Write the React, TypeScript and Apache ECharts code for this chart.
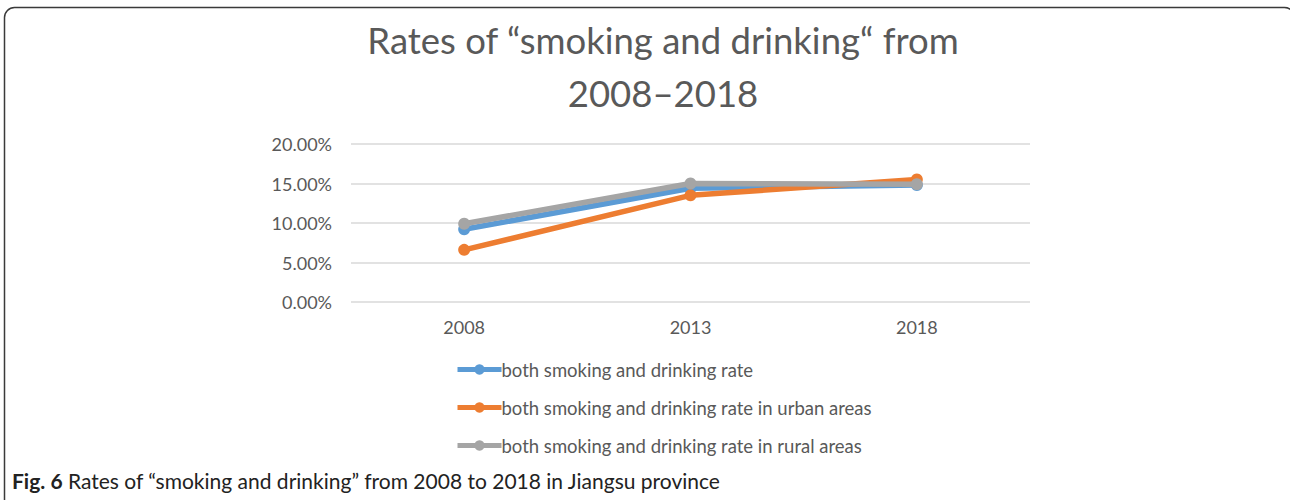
import React, { useEffect, useRef } from "react";
import * as echarts from "echarts";

const years = ["2008", "2013", "2018"];
const overallRate = [9.2, 14.4, 14.8];
const urbanRate = [6.6, 13.5, 15.5];
const ruralRate = [9.9, 15.0, 14.9];
const seriesNames = [
  "both smoking and drinking rate",
  "both smoking and drinking rate in urban areas",
  "both smoking and drinking rate in rural areas",
];
const seriesColors = ["#5B9BD5", "#ED7D31", "#A5A5A5"];

export default function App() {
  const ref = useRef<HTMLDivElement>(null);
  useEffect(() => {
    if (!ref.current) return;
    const chart = echarts.init(ref.current, null, { renderer: "svg" });
    const data = [overallRate, urbanRate, ruralRate];
    chart.setOption({
      animation: false,
      backgroundColor: "#ffffff",
      textStyle: { fontFamily: "Lato" },
      title: {
        text: "Rates of \u201csmoking and drinking\u201c from\n2008\u20132018",
        left: 658,
        textAlign: "center",
        top: 8,
        textStyle: {
          fontFamily: "Lato",
          fontSize: 36.5,
          fontWeight: "normal",
          color: "#595959",
          lineHeight: 53,
        },
      },
      grid: { left: 351, right: 260, top: 144, bottom: 198 },
      xAxis: {
        type: "category",
        data: years,
        axisLine: { show: false },
        axisTick: { show: false },
        axisLabel: { color: "#595959", fontSize: 18, margin: 16, fontFamily: "Lato" },
      },
      yAxis: {
        type: "value",
        min: 0,
        max: 20,
        interval: 5,
        axisLine: { show: false },
        axisTick: { show: false },
        axisLabel: {
          color: "#595959",
          fontSize: 18,
          margin: 19,
          fontFamily: "Lato",
          formatter: (v: number) => v.toFixed(2) + "%",
        },
        splitLine: { lineStyle: { color: "#d9d9d9", width: 1.5 } },
      },
      legend: {
        orient: "vertical",
        left: 450,
        top: 355,
        itemGap: 19,
        itemWidth: 44,
        itemHeight: 13,
        lineStyle: { width: 5 },
        textStyle: { color: "#595959", fontSize: 18.5, fontFamily: "Lato", padding: [0, 0, 0, -5] },
        data: seriesNames,
      },
      series: seriesNames.map((name, i) => ({
        name,
        type: "line",
        data: data[i],
        symbol: "circle",
        symbolSize: 12,
        color: seriesColors[i],
        lineStyle: { width: 5.5, color: seriesColors[i] },
        itemStyle: { color: seriesColors[i] },
        z: 2 + i,
      })),
      graphic: [
        {
          type: "rect",
          shape: { x: 4.5, y: 7.5, width: 1290, height: 530, r: 10 },
          style: { fill: "none", stroke: "#3a3a3a", lineWidth: 1.5 },
          silent: true,
        },
        {
          type: "text",
          x: 12,
          y: 470,
          style: {
            text: "{b|Fig. 6} Rates of \u201csmoking and drinking\u201d from 2008 to 2018 in Jiangsu province",
            fontFamily: "Lato",
            fontSize: 21,
            fill: "#222222",
            rich: {
              b: { fontFamily: "Lato", fontSize: 21, fontWeight: "bold", fill: "#222222" },
            },
          },
        },
      ],
    });
    return () => chart.dispose();
  }, []);
  return (
    <div
      ref={ref}
      style={{ position: "fixed", left: 0, top: 0, width: 1290, height: 500 }}
    />
  );
}
